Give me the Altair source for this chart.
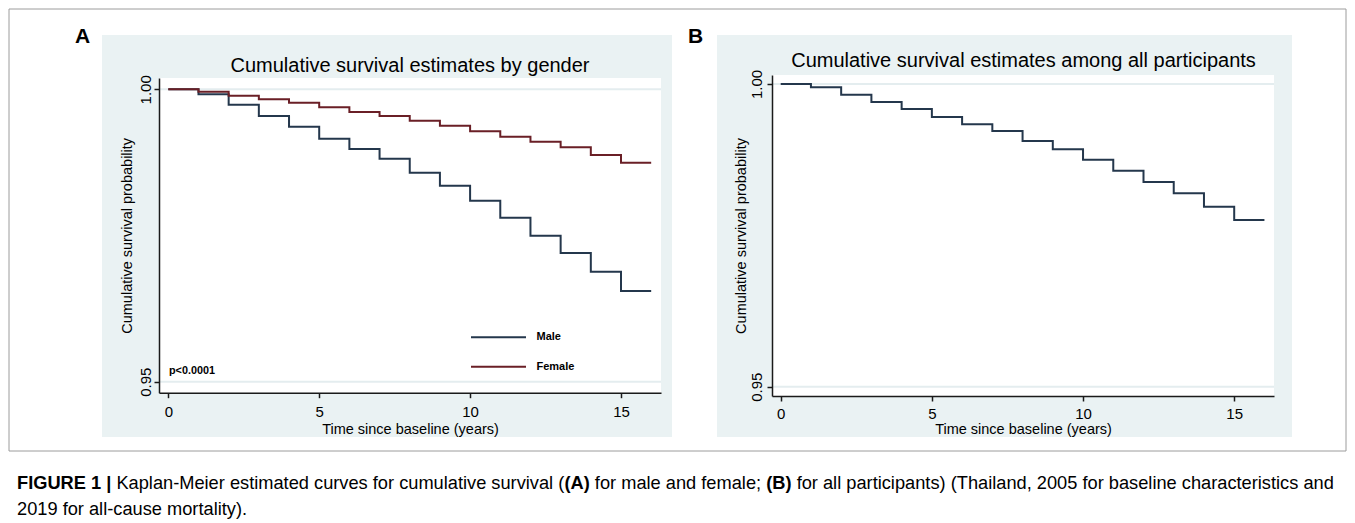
import altair as alt
import pandas as pd

# ---------------- data ----------------
step_times = list(range(0, 16))          # start of each step interval (years)
end_time = 16
male_surv = [1.0000, 0.99915, 0.99737, 0.99543, 0.99360, 0.99155, 0.98979, 0.98813,
             0.98574, 0.98352, 0.98095, 0.97804, 0.97497, 0.97201, 0.96881, 0.96551]
female_surv = [1.0000, 0.99959, 0.99891, 0.99829, 0.99771, 0.99692, 0.99612, 0.99543,
               0.99463, 0.99378, 0.99282, 0.99189, 0.99104, 0.99008, 0.98877, 0.98745]
all_surv = [1.0000, 0.99945, 0.99823, 0.99703, 0.99587, 0.99455, 0.99334, 0.99223,
            0.99058, 0.98921, 0.98749, 0.98567, 0.98381, 0.98194, 0.97973, 0.97753]
groups = ["Male", "Female"]
group_colors = ["#24374c", "#6a1f26"]
x_ticks = [0, 5, 10, 15]
y_ticks = [0.95, 1.00]

title_a = "Cumulative survival estimates by gender"
title_b = "Cumulative survival estimates among all participants"
x_title = "Time since baseline (years)"
y_title = "Cumulative survival probability"
p_text = "p<0.0001"

W, H = 1355, 523
FONT = "Liberation Sans"
BG = "#eaf2f3"
INK = "#1a1a1a"


def km_rows(values, group):
    rows = [{"t": t, "s": s, "group": group} for t, s in zip(step_times, values)]
    rows.append({"t": end_time, "s": values[-1], "group": group})
    return rows


df_a = pd.DataFrame(km_rows(male_surv, "Male") + km_rows(female_surv, "Female"))
df_b = pd.DataFrame(km_rows(all_surv, "All"))
df_grid = pd.DataFrame({"g": y_ticks})
df_leg = pd.DataFrame({"group": groups, "row": list(range(len(groups)))})


def lin_domain(p1, v1, p2, v2, lo, hi):
    k = (v2 - v1) / (p2 - p1)
    return [v1 + (lo - p1) * k, v1 + (hi - p1) * k]


# pixel layout of the two plot regions
A = dict(l=159, r=661, t=78, b=392.7, x0=168.3, x15=621.0, y1=89.3, y95=381.7)
B = dict(l=772, r=1274, t=75, b=396.0, x0=780.7, x15=1234.2, y1=84.0, y95=386.7)


def scales(P):
    xs = alt.Scale(domain=lin_domain(P["x0"], 0, P["x15"], 15, P["l"], P["r"]),
                   range=[P["l"], P["r"]], nice=False, zero=False)
    ys = alt.Scale(domain=lin_domain(P["y95"], 0.95, P["y1"], 1.0, P["b"], P["t"]),
                   range=[P["b"], P["t"]], nice=False, zero=False)
    return xs, ys


def axes(P, lab_pad_x, lab_pad_y, title_y_off, title_x_off):
    common = dict(domainColor=INK, domainWidth=1.5, tickColor=INK, tickWidth=1.5,
                  tickSize=5, labelFont=FONT, labelFontSize=15, labelColor="black",
                  titleFont=FONT, titleFontSize=14.5, titleFontWeight="normal",
                  titleColor="black", grid=False, labelOverlap=False, labelFlush=False,
                  zindex=2)
    ax = alt.Axis(orient="bottom", offset=-(H - P["b"]), values=x_ticks, format="d",
                  title=x_title, labelPadding=lab_pad_x, labelBaseline="top",
                  labelAlign="center", titleBaseline="alphabetic", titleY=title_y_off,
                  **common)
    ay = alt.Axis(orient="left", offset=-P["l"], values=y_ticks, format=".2f",
                  title=y_title, labelAngle=270, labelAlign="center",
                  labelBaseline="alphabetic", labelPadding=lab_pad_y,
                  titleAngle=270, titleBaseline="alphabetic", titleAlign="center",
                  titleX=title_x_off, **common)
    return ax, ay


one = alt.Data(values=[{"k": 1}])


def box(x1, x2, y1, y2, **kw):
    return alt.Chart(one).mark_rect(**kw).encode(
        x=alt.value(x1), x2=alt.value(x2), y=alt.value(y1), y2=alt.value(y2))


def txt(s, x, y, size, weight="normal", align="left", baseline="alphabetic"):
    return alt.Chart(one).mark_text(
        text=s, font=FONT, fontSize=size, fontWeight=weight, align=align,
        baseline=baseline, color="black").encode(x=alt.value(x), y=alt.value(y))


layers = []
# figure frame and panel backgrounds
layers.append(box(9, 1346, 9, 451, fillOpacity=0, stroke="#9c9c9c", strokeWidth=1))
layers.append(box(102, 672, 35, 437, fill=BG))
layers.append(box(717, 1292, 35, 437, fill=BG))
layers.append(box(A["l"], A["r"], A["t"], A["b"], fill="white"))
layers.append(box(B["l"], B["r"], B["t"], B["b"], fill="white"))

# ---- panel A ----
xsA, ysA = scales(A)
axA, ayA = axes(A, 6.5, 4, 40.8, -27.3)
layers.append(alt.Chart(df_grid).mark_rule(color="#e4edef", strokeWidth=2).encode(
    y=alt.Y("g:Q", scale=ysA, axis=None), x=alt.value(A["l"]), x2=alt.value(A["r"])))
layers.append(alt.Chart(df_a).mark_line(interpolate="step-after", strokeWidth=2).encode(
    x=alt.X("t:Q", scale=xsA, axis=axA),
    y=alt.Y("s:Q", scale=ysA, axis=ayA),
    color=alt.Color("group:N", scale=alt.Scale(domain=groups, range=group_colors),
                    legend=None)))
leg_y = alt.Y("row:Q", scale=alt.Scale(domain=[0, 1], range=[337.3, 366.7]), axis=None)
layers.append(alt.Chart(df_leg).mark_rule(strokeWidth=2).encode(
    x=alt.value(471), x2=alt.value(526), y=leg_y,
    color=alt.Color("group:N", scale=alt.Scale(domain=groups, range=group_colors),
                    legend=None)))
layers.append(alt.Chart(df_leg).mark_text(
    font=FONT, fontSize=11, fontWeight="bold", align="left", baseline="middle",
    color="black").encode(x=alt.value(536.5), y=leg_y, text="group:N"))
layers.append(txt(p_text, 169, 374, 10.8, weight="bold"))
layers.append(txt(title_a, 410, 71.7, 20, align="center"))
layers.append(txt("A", 75, 43.3, 21, weight="bold"))

# ---- panel B ----
xsB, ysB = scales(B)
axB, ayB = axes(B, 5.0, 5.5, 37.2, -26.8)
layers.append(alt.Chart(df_grid).mark_rule(color="#e4edef", strokeWidth=2).encode(
    y=alt.Y("g:Q", scale=ysB, axis=None), x=alt.value(B["l"]), x2=alt.value(B["r"])))
layers.append(alt.Chart(df_b).mark_line(interpolate="step-after", strokeWidth=2,
                                        color="#24374c").encode(
    x=alt.X("t:Q", scale=xsB, axis=axB),
    y=alt.Y("s:Q", scale=ysB, axis=ayB)))
layers.append(txt(title_b, 1023.5, 66.7, 20, align="center"))
layers.append(txt("B", 688, 43.3, 21, weight="bold"))

# ---- caption (mixed bold / regular runs laid out with Arial metrics) ----
REG = {" ": 278, "(": 333, ")": 333, ",": 278, "-": 333, ".": 278, ";": 278, "|": 260,
       "A": 667, "B": 667, "C": 722, "F": 611, "G": 778, "I": 278, "K": 667, "M": 833,
       "T": 611, "a": 556, "b": 556, "c": 500, "d": 556, "e": 556, "f": 278, "g": 556,
       "h": 556, "i": 222, "l": 222, "m": 833, "n": 556, "o": 556, "p": 556, "r": 333,
       "s": 500, "t": 278, "u": 556, "v": 500, "y": 500}
BOLD = {" ": 278, "(": 333, ")": 333, "|": 280, "A": 722, "B": 722, "E": 667, "F": 611,
        "G": 778, "I": 278, "R": 722, "U": 722}


def em(s, bold):
    tab = BOLD if bold else REG
    return sum(tab.get(c, 556) for c in s) / 1000.0


caption_line1 = [("FIGURE 1 |", True),
                 (" Kaplan-Meier estimated curves for cumulative survival (", False),
                 ("(A)", True), (" for male and female; ", False), ("(B)", True),
                 (" for all participants) (Thailand, 2005 for baseline characteristics and",
                  False)]
caption_line2 = "2019 for all-cause mortality)."
cap_x0, cap_x1 = 17, 1334
cap_size = (cap_x1 - cap_x0) / sum(em(s, b) for s, b in caption_line1)
x = cap_x0
for seg, bold in caption_line1:
    lead = len(seg) - len(seg.lstrip(" "))
    xs = x + em(seg[:lead], bold) * cap_size
    layers.append(txt(seg.strip(" "), xs, 489.2, cap_size,
                      weight="bold" if bold else "normal"))
    x += em(seg, bold) * cap_size
layers.append(txt(caption_line2, cap_x0, 514.5, cap_size))

chart = alt.layer(*layers).resolve_scale(
    x="independent", y="independent", color="independent"
).properties(
    width=W, height=H, autosize=alt.AutoSizeParams(type="none"), padding=0
).configure(background="white").configure_view(strokeOpacity=0)

chart.save("out.html", embed_options={"renderer": "svg", "actions": False})
